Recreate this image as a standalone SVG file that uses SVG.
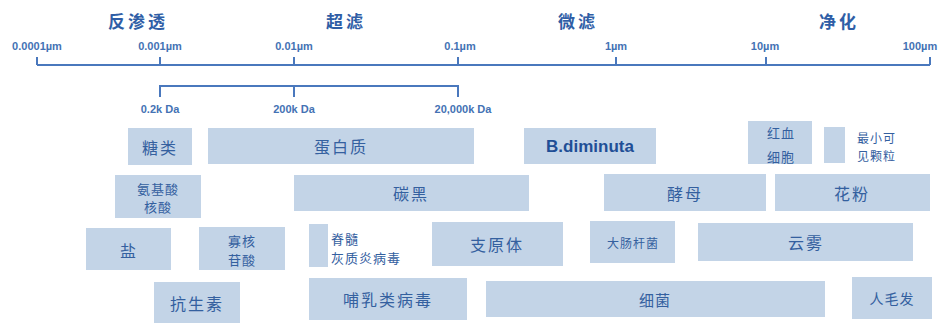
<svg xmlns="http://www.w3.org/2000/svg" width="939" height="323" viewBox="0 0 939 323">
<style>
.ax{stroke:#4a78bd;stroke-width:2;fill:none}
.sc{font-family:"Liberation Sans","DejaVu Sans",sans-serif;font-size:11px;fill:#4472b4;text-anchor:middle;font-weight:bold}
.hd{font-family:"Noto Sans CJK SC",sans-serif;font-size:17px;fill:#2f5ea6;text-anchor:middle;font-weight:bold;letter-spacing:3px}
.b{fill:#c3d4e7}
.t{font-family:"Noto Sans CJK SC",sans-serif;fill:#34609f;text-anchor:middle;dominant-baseline:central;font-size:16px;letter-spacing:2px}
.s{font-size:13px;letter-spacing:1px}
.xs{font-size:12px;letter-spacing:1px}
</style>
<g id="headings">
<text class="hd" x="138" y="28">反渗透</text>
<text class="hd" x="346" y="28">超滤</text>
<text class="hd" x="578" y="28">微滤</text>
<text class="hd" x="839" y="28">净化</text>
</g>
<g id="axis">
<path class="ax" d="M37,65 H930 M37,57 V65 M160,57 V65 M294,57 V65 M458,57 V65 M616,57 V65 M766,57 V65 M930,57 V65"/>
<text class="sc" x="37" y="50">0.0001µm</text>
<text class="sc" x="160" y="50">0.001µm</text>
<text class="sc" x="294" y="50">0.01µm</text>
<text class="sc" x="460" y="50">0.1µm</text>
<text class="sc" x="616" y="50">1µm</text>
<text class="sc" x="765" y="50">10µm</text>
<text class="sc" x="920" y="50">100µm</text>
</g>
<g id="dalton">
<path class="ax" d="M160,97 V86 H458 V97 M294,86 V97"/>
<text class="sc" x="160" y="113">0.2k Da</text>
<text class="sc" x="294" y="113">200k Da</text>
<text class="sc" x="463" y="113">20,000k Da</text>
</g>
<g id="n-tanglei"><rect class="b" x="128" y="128" width="64" height="37"/><text class="t" x="160" y="147">糖类</text></g>
<g id="n-danbaizhi"><rect class="b" x="208" y="128" width="266" height="36"/><text class="t" x="341" y="146">蛋白质</text></g>
<g id="n-bdiminuta"><rect class="b" x="524" y="128" width="132" height="36"/><text x="590" y="146" style="font-family:'Liberation Sans',sans-serif;font-size:17px;font-weight:bold;fill:#1f4f96;text-anchor:middle;dominant-baseline:central">B.diminuta</text></g>
<g id="n-hongxuexibao"><rect class="b" x="748" y="121" width="64" height="43"/><text class="t s" x="781" y="132">红血</text><text class="t s" x="781" y="156">细胞</text></g>
<g id="n-zuixiao"><rect class="b" x="824" y="127" width="21" height="36"/><text class="t xs" x="857" y="137" style="text-anchor:start">最小可</text><text class="t xs" x="857" y="155" style="text-anchor:start">见颗粒</text></g>
<g id="n-anjisuan"><rect class="b" x="115" y="175" width="86" height="43"/><text class="t s" x="158" y="188">氨基酸</text><text class="t s" x="158" y="206">核酸</text></g>
<g id="n-tanhei"><rect class="b" x="294" y="175" width="235" height="36"/><text class="t" x="411" y="193">碳黑</text></g>
<g id="n-jiaomu"><rect class="b" x="604" y="174" width="162" height="37"/><text class="t" x="685" y="193">酵母</text></g>
<g id="n-huafen"><rect class="b" x="775" y="174" width="155" height="37"/><text class="t" x="852" y="193">花粉</text></g>
<g id="n-yan"><rect class="b" x="86" y="228" width="85" height="42"/><text class="t" x="129" y="250">盐</text></g>
<g id="n-guahe"><rect class="b" x="199" y="227" width="86" height="43"/><text class="t s" x="242" y="240">寡核</text><text class="t s" x="242" y="259">苷酸</text></g>
<g id="n-jisui"><rect class="b" x="309" y="224" width="19" height="43"/><text class="t s" x="331" y="238" style="text-anchor:start">脊髓</text><text class="t s" x="331" y="257" style="text-anchor:start">灰质炎病毒</text></g>
<g id="n-zhiyuanti"><rect class="b" x="432" y="222" width="131" height="44"/><text class="t" x="497" y="244">支原体</text></g>
<g id="n-dachang"><rect class="b" x="590" y="221" width="85" height="42"/><text class="t xs" x="633" y="242">大肠杆菌</text></g>
<g id="n-yunwu"><rect class="b" x="698" y="223" width="215" height="38"/><text class="t" x="806" y="242">云雾</text></g>
<g id="n-kangshengsu"><rect class="b" x="154" y="282" width="86" height="41"/><text class="t" x="197" y="303">抗生素</text></g>
<g id="n-buru"><rect class="b" x="309" y="278" width="158" height="42"/><text class="t" x="388" y="299">哺乳类病毒</text></g>
<g id="n-xijun"><rect class="b" x="486" y="281" width="339" height="36"/><text class="t s" x="655" y="299" style="font-size:15px">细菌</text></g>
<g id="n-renmaofa"><rect class="b" x="852" y="277" width="80" height="42"/><text class="t s" x="892" y="298" style="font-size:14px">人毛发</text></g>
<g id="connectors"></g>
</svg>
